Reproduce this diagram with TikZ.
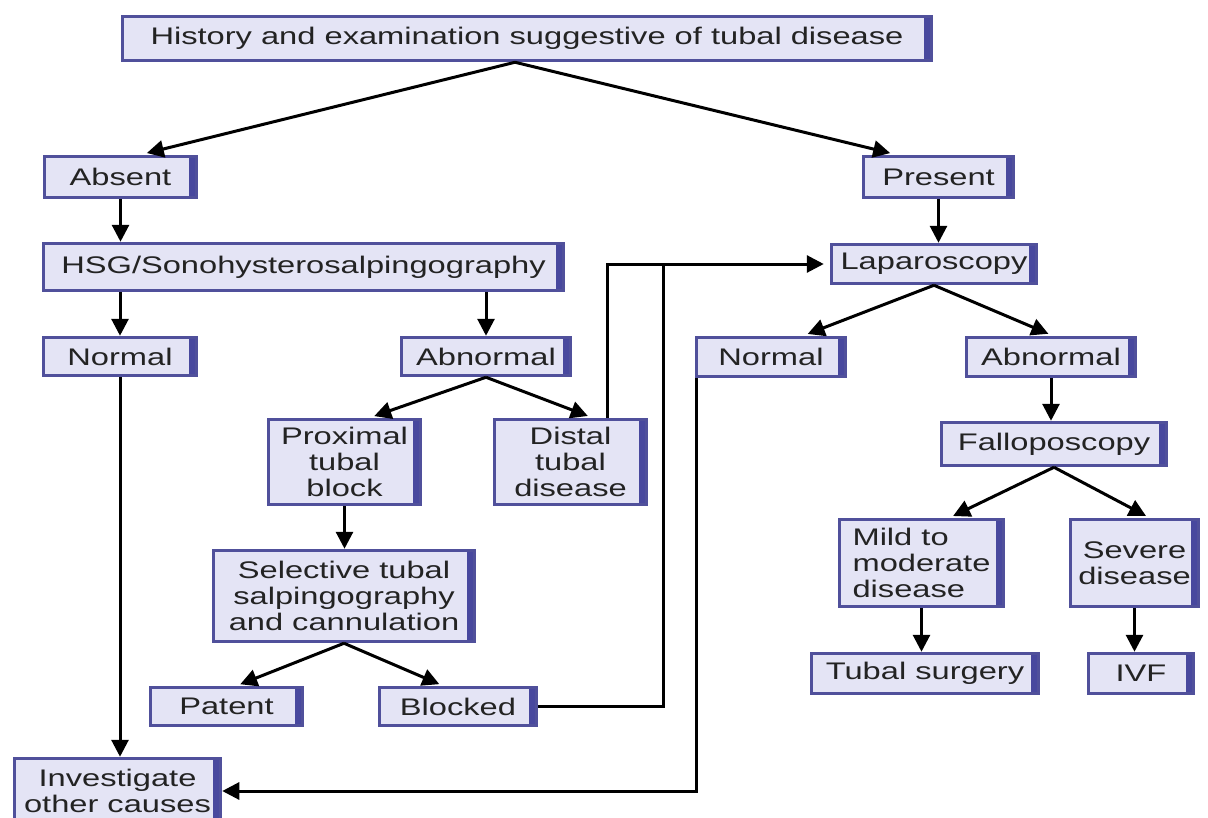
\documentclass[tikz,border=0pt]{standalone}
\usepackage{fontspec}
\setmainfont[FakeStretch=1.36]{Liberation Sans}
\usetikzlibrary{arrows.meta}
\definecolor{boxfill}{RGB}{228,228,245}
\definecolor{boxline}{RGB}{80,80,155}
\definecolor{boxbar}{RGB}{72,72,158}
\definecolor{txt}{RGB}{35,35,35}
\tikzset{
  box/.style={rectangle, fill=boxfill, draw=boxline, line width=3.5pt, inner sep=0pt,
    text=txt, align=center, font=\fontsize{24}{26}\selectfont,
    path picture={\fill[boxbar] ([xshift=-8pt]path picture bounding box.north east) rectangle (path picture bounding box.south east);}},
  arr/.style={draw=black, line width=3pt, -{Triangle[length=17pt,width=17pt]}},
  ln/.style={draw=black, line width=3pt}
}
\begin{document}
\begin{tikzpicture}[x=1pt,y=-1pt]
\useasboundingbox[fill=white] (0,0) rectangle (1208,817);
\node[box, minimum width=809pt, minimum height=44pt] (top) at (527,38.5) {History and examination suggestive of tubal disease};
\node[box, minimum width=152pt, minimum height=41pt] (absent) at (120.5,177) {Absent};
\node[box, minimum width=150pt, minimum height=41pt] (present) at (938.5,177) {Present};
\node[box, minimum width=520pt, minimum height=47pt] (hsg) at (303.5,267) {HSG/Sonohysterosalpingography};
\node[box, minimum width=205pt, minimum height=39pt] (lap) at (934,264) {Laparoscopy};
\node[box, minimum width=153pt, minimum height=38pt] (normalL) at (120,356.5) {Normal};
\node[box, minimum width=169pt, minimum height=38pt] (abnL) at (486,356.5) {Abnormal};
\node[box, minimum width=149pt, minimum height=39pt] (normalR) at (771,357) {Normal};
\node[box, minimum width=169pt, minimum height=39pt] (abnR) at (1051,357) {Abnormal};
\node[box, minimum width=152pt, minimum height=85pt] (prox) at (344.5,462) {Proximal\\tubal\\block};
\node[box, minimum width=152pt, minimum height=85pt] (distal) at (570.5,462) {Distal\\tubal\\disease};
\node[box, minimum width=225pt, minimum height=43pt] (fallo) at (1054,444) {Falloposcopy};
\node[box, minimum width=261pt, minimum height=91pt] (sel) at (344,596) {Selective tubal\\salpingography\\and cannulation};
\node[box, minimum width=164pt, minimum height=87pt, align=left] (mild) at (921.5,563) {Mild to\\moderate\\disease};
\node[box, minimum width=128pt, minimum height=87pt] (severe) at (1134.5,563) {Severe\\disease};
\node[box, minimum width=227pt, minimum height=40pt] (tsurg) at (925,673.5) {Tubal surgery};
\node[box, minimum width=105pt, minimum height=40pt] (ivf) at (1141,673.5) {IVF};
\node[box, minimum width=152pt, minimum height=38pt] (patent) at (226.5,706.5) {Patent};
\node[box, minimum width=157pt, minimum height=38pt] (blocked) at (458,706.5) {Blocked};
\node[box, minimum width=206pt, minimum height=65pt] (invest) at (117.5,791) {Investigate\\other causes};
\coordinate (join) at (663,264);

\draw[arr, shorten >=7pt] ([xshift=-12pt]top.south) -- ([xshift=19.5pt]absent.north);
\draw[arr, shorten >=7pt] ([xshift=-12pt]top.south) -- ([xshift=-41.5pt]present.north);
\draw[arr] (absent) -- (absent |- hsg.north);
\draw[arr] (present) -- (present |- lap.north);
\draw[arr] (normalL |- hsg.south) -- (normalL);
\draw[arr] (abnL |- hsg.south) -- (abnL);
\draw[arr, shorten >=5pt] (lap.south) -- ([xshift=32pt]normalR.north);
\draw[arr, shorten >=5pt] (lap.south) -- ([xshift=2pt]abnR.north);
\draw[arr, shorten >=5pt] (abnL.south) -- ([xshift=25pt]prox.north);
\draw[arr, shorten >=5pt] (abnL.south) -- ([xshift=22pt]distal.north);
\draw[arr] (prox) -- (prox |- sel.north);
\draw[arr, shorten >=4pt] (sel.south) -- ([xshift=10pt]patent.north);
\draw[arr, shorten >=4pt] (sel.south) -- ([xshift=-15pt]blocked.north);
\draw[arr] (abnR) -- (abnR |- fallo.north);
\draw[arr, shorten >=4pt] (fallo.south) -- ([xshift=28pt]mild.north);
\draw[arr, shorten >=4pt] (fallo.south) -- ([xshift=15pt]severe.north);
\draw[arr] (mild) -- (mild |- tsurg.north);
\draw[arr] (severe) -- (severe |- ivf.north);
\draw[arr] (normalL) -- (normalL |- invest.north);
\draw[arr, shorten >=6pt] ([xshift=36.5pt]distal.north) |- (lap.west);
\draw[ln] (blocked.east) -| (join);
\draw[arr] ([xshift=1.5pt]normalR.south west) |- (invest.east);
\end{tikzpicture}
\end{document}
